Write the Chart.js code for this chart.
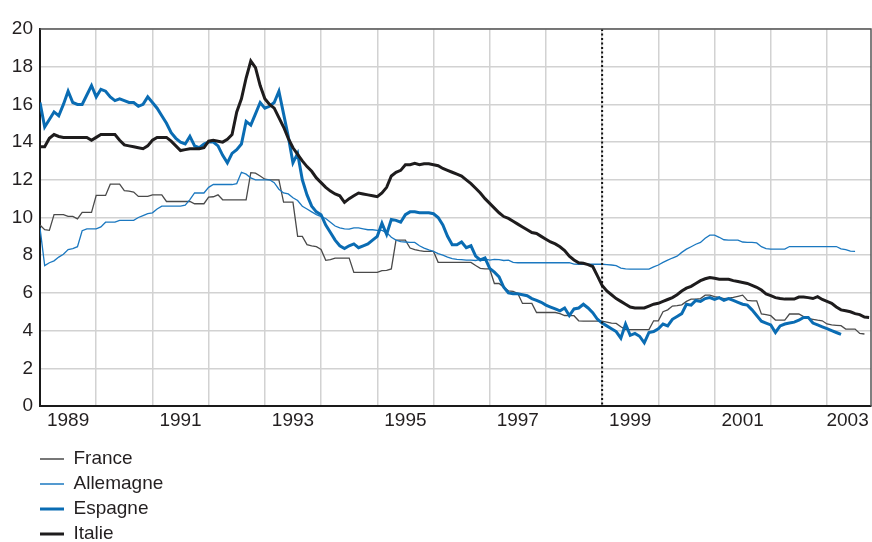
<!DOCTYPE html>
<html>
<head>
<meta charset="utf-8">
<script src="https://cdn.jsdelivr.net/npm/chart.js@4.4.1/dist/chart.umd.min.js"></script>
<style>
  html, body { margin: 0; padding: 0; background: #fff; }
</style>
</head>
<body>
<canvas id="chart" width="872" height="542"></canvas>
<script>
// Monthly rates, January 1989 onwards (one value per month)

const firstYear = 1989;
const yearLabels = ['1989', '1991', '1993', '1995', '1997', '1999', '2001', '2003'];
const euroMonth = 120; // January 1999

const france = [
  9.6, 9.35, 9.32, 10.15, 10.15, 10.15, 10.06, 10.06, 9.93, 10.27, 10.27, 10.27,
  11.17, 11.17, 11.17, 11.77, 11.77, 11.77, 11.43, 11.4, 11.35, 11.12, 11.12, 11.12,
  11.2, 11.2, 11.2, 10.85, 10.85, 10.85, 10.85, 10.85, 10.85, 10.73, 10.73, 10.73,
  11.08, 11.1, 11.2, 10.94, 10.94, 10.94, 10.94, 10.94, 10.94, 12.38, 12.35, 12.2,
  12.03, 12.0, 12.0, 12.0, 10.82, 10.82, 10.82, 9.0, 9.0, 8.56, 8.5, 8.45,
  8.3, 7.73, 7.76, 7.85, 7.85, 7.85, 7.85, 7.09, 7.09, 7.09, 7.09, 7.09,
  7.09, 7.18, 7.2, 7.27, 8.8, 8.8, 8.8, 8.38, 8.3, 8.24, 8.2, 8.2,
  8.2, 7.62, 7.62, 7.62, 7.62, 7.62, 7.62, 7.62, 7.62, 7.45, 7.3, 7.27,
  7.27, 6.5, 6.5, 6.3, 6.11, 6.08, 5.97, 5.44, 5.44, 5.44, 4.96, 4.96,
  4.96, 4.96, 4.96, 4.9, 4.8, 4.79, 4.79, 4.52, 4.5, 4.5, 4.5, 4.5,
  4.5, 4.45, 4.4, 4.38, 4.2, 4.05, 4.05, 4.05, 4.05, 4.05, 4.05, 4.52,
  4.52, 5.0, 5.1, 5.3, 5.32, 5.37, 5.55, 5.67, 5.67, 5.7, 5.88, 5.88,
  5.8, 5.76, 5.7, 5.72, 5.76, 5.82, 5.88, 5.6, 5.58, 5.58, 4.88, 4.85,
  4.79, 4.56, 4.56, 4.56, 4.88, 4.88, 4.88, 4.74, 4.65, 4.6, 4.55, 4.52,
  4.35, 4.3, 4.28, 4.26, 4.08, 4.08, 4.08, 3.85, 3.82
];

const allemagne = [
  9.45, 7.45, 7.6, 7.7, 7.9, 8.05, 8.3, 8.35, 8.45, 9.3, 9.4, 9.4,
  9.4, 9.5, 9.75, 9.75, 9.75, 9.85, 9.85, 9.85, 9.85, 10.0, 10.1, 10.2,
  10.25, 10.45, 10.6, 10.6, 10.6, 10.6, 10.6, 10.65, 10.95, 11.3, 11.3, 11.3,
  11.6, 11.75, 11.75, 11.75, 11.75, 11.75, 11.8, 12.4, 12.3, 12.1, 12.0, 12.0,
  12.0, 12.0, 11.85, 11.5, 11.3, 11.25, 11.05, 10.9, 10.6, 10.45, 10.3, 10.15,
  10.05, 9.95, 9.75, 9.55, 9.45, 9.4, 9.38, 9.45, 9.45, 9.4, 9.35, 9.35,
  9.32, 9.32, 9.2, 8.95, 8.8, 8.72, 8.7, 8.68, 8.68, 8.5, 8.38, 8.28,
  8.2, 8.08, 8.0, 7.9, 7.82, 7.78, 7.76, 7.74, 7.74, 7.72, 7.78, 7.8,
  7.74, 7.78, 7.76, 7.72, 7.74, 7.62, 7.6, 7.6, 7.6, 7.6, 7.6, 7.6,
  7.6, 7.6, 7.6, 7.6, 7.6, 7.6, 7.53, 7.52, 7.52, 7.52, 7.52, 7.52,
  7.52, 7.5, 7.48, 7.45, 7.32, 7.27, 7.26, 7.26, 7.26, 7.26, 7.26, 7.38,
  7.48, 7.62, 7.74, 7.85, 7.95, 8.15, 8.32, 8.45, 8.58, 8.68, 8.9, 9.06,
  9.06, 8.95, 8.82, 8.8, 8.8, 8.8, 8.7, 8.68, 8.68, 8.65, 8.45, 8.35,
  8.32, 8.32, 8.32, 8.32, 8.46, 8.46, 8.46, 8.46, 8.46, 8.46, 8.46, 8.46,
  8.46, 8.46, 8.46, 8.34, 8.3, 8.22, 8.2
];

const espagne = [
  16.1, 14.8, 15.2, 15.6, 15.4, 16.0, 16.7, 16.1, 16.0, 16.0, 16.5, 17.0,
  16.4, 16.8, 16.7, 16.4, 16.2, 16.3, 16.2, 16.1, 16.1, 15.9, 16.0, 16.4,
  16.1, 15.8, 15.4, 15.0, 14.5, 14.2, 14.0, 13.9, 14.3, 13.8, 13.7, 13.9,
  14.0, 14.0, 13.8, 13.3, 12.9, 13.4, 13.6, 13.9, 15.1, 14.9, 15.5, 16.1,
  15.8, 15.9, 16.1, 16.7, 15.5, 14.3, 12.9, 13.4, 12.0, 11.2, 10.6, 10.3,
  10.15, 9.6, 9.2, 8.8, 8.5, 8.35, 8.5, 8.6, 8.4, 8.5, 8.6, 8.8,
  9.0, 9.7, 9.1, 9.9, 9.85, 9.75, 10.15, 10.3, 10.3, 10.25, 10.25, 10.25,
  10.2, 10.0, 9.6, 9.0, 8.55, 8.55, 8.7, 8.4, 8.5, 7.95, 7.75, 7.85,
  7.3, 7.1, 6.85, 6.3, 6.0, 5.95, 5.95, 5.9, 5.85, 5.7, 5.6, 5.5,
  5.35, 5.25, 5.15, 5.05, 5.2, 4.8, 5.15, 5.2, 5.4, 5.2, 4.95, 4.6,
  4.4, 4.25, 4.1, 3.95, 3.6, 4.35, 3.75, 3.85, 3.7, 3.35, 3.9, 3.95,
  4.1, 4.35, 4.25, 4.6, 4.75, 4.9, 5.4, 5.35, 5.6, 5.55, 5.7, 5.75,
  5.65, 5.75, 5.6, 5.7, 5.6, 5.5, 5.4, 5.35, 5.1, 4.8, 4.5, 4.4,
  4.3, 3.9, 4.25, 4.35, 4.4, 4.45, 4.55, 4.7, 4.7, 4.4, 4.3, 4.2,
  4.1, 4.0, 3.9, 3.8
];

const italie = [
  13.75, 13.75, 14.2, 14.4, 14.3, 14.25, 14.25, 14.25, 14.25, 14.25, 14.25, 14.1,
  14.25, 14.4, 14.4, 14.4, 14.4, 14.1, 13.85, 13.8, 13.75, 13.7, 13.65, 13.8,
  14.1, 14.25, 14.25, 14.25, 14.05, 13.8, 13.55, 13.6, 13.65, 13.65, 13.65, 13.7,
  14.05, 14.1, 14.05, 14.0, 14.15, 14.4, 15.6, 16.3, 17.4, 18.3, 17.95, 17.0,
  16.3, 16.0, 15.8, 15.3, 14.8, 14.2, 13.7, 13.35, 13.0, 12.7, 12.45, 12.1,
  11.85, 11.6, 11.4, 11.25, 11.15, 10.8, 11.0, 11.15, 11.3, 11.25, 11.2, 11.15,
  11.1, 11.3, 11.6, 12.2, 12.4, 12.5, 12.8, 12.8, 12.87, 12.8, 12.85, 12.85,
  12.8, 12.75, 12.6, 12.5, 12.4, 12.3, 12.2, 12.0, 11.8, 11.55, 11.3, 11.0,
  10.75, 10.5, 10.25, 10.05, 9.95, 9.8, 9.65, 9.5, 9.35, 9.2, 9.15, 9.0,
  8.85, 8.7, 8.6, 8.45, 8.25, 7.95, 7.75, 7.6, 7.57, 7.5, 7.4, 6.9,
  6.4, 6.1, 5.9, 5.7, 5.55, 5.4, 5.25, 5.2, 5.2, 5.2, 5.3, 5.4,
  5.45, 5.55, 5.65, 5.75, 5.9, 6.1, 6.25, 6.35, 6.5, 6.65, 6.75, 6.82,
  6.78, 6.72, 6.72, 6.72, 6.65, 6.6, 6.55, 6.5, 6.4, 6.3, 6.15, 5.95,
  5.85, 5.75, 5.7, 5.67, 5.67, 5.67, 5.78, 5.78, 5.75, 5.7, 5.8, 5.65,
  5.55, 5.45, 5.25, 5.1, 5.05, 5.0, 4.9, 4.85, 4.72, 4.7
];

const lastMonth = 177.4;
const inkColor = '#231f20';
const gridColor = '#d2d2d2';
const font = { family: "'Liberation Sans', Arial, sans-serif", size: 19 };

const toPoints = (values) => values.map((v, i) => ({ x: i, y: v }));

function series(label, values, color, width, order) {
  return {
    label,
    data: toPoints(values),
    borderColor: color,
    backgroundColor: color,
    borderWidth: width,
    pointRadius: 0,
    tension: 0,
    order,
  };
}

// legend stacked vertically under the plot, left aligned with the y axis
const stackLegend = {
  id: 'stackLegend',
  afterLayout(chart) {
    const lg = chart.legend;
    const n = chart.data.datasets.length;
    const rowH = lg.options.labels.font.size + lg.options.labels.padding;
    lg.left = chart.chartArea.left - lg.options.labels.padding;
    lg.right = lg.left + 150;
    lg.width = 150;
    lg.height = n * rowH + 10;
    lg.bottom = lg.top + lg.height;
  }
};

// euro start marker + top/right frame
const frame = {
  id: 'frame',
  afterDraw(chart) {
    const { ctx, chartArea: a, scales } = chart;
    const xe = scales.x.getPixelForValue(euroMonth);
    ctx.save();
    ctx.strokeStyle = '#111';
    ctx.lineWidth = 2;
    ctx.setLineDash([2, 2.5]);
    ctx.beginPath();
    ctx.moveTo(xe, a.top);
    ctx.lineTo(xe, a.bottom);
    ctx.stroke();
    ctx.setLineDash([]);
    ctx.strokeStyle = '#555';
    ctx.lineWidth = 1.5;
    ctx.beginPath();
    ctx.moveTo(a.left, a.top);
    ctx.lineTo(a.right, a.top);
    ctx.lineTo(a.right, a.bottom);
    ctx.stroke();
    ctx.restore();
  }
};

new Chart(document.getElementById('chart'), {
  type: 'line',
  data: {
    datasets: [
      series('France', france, '#4a4a4a', 1.3, 4),
      series('Allemagne', allemagne, '#1b78c0', 1.3, 3),
      series('Espagne', espagne, '#0a6cb3', 3, 2),
      series('Italie', italie, '#1e1c1d', 3, 1),
    ],
  },
  options: {
    responsive: false,
    animation: false,
    layout: { padding: { top: 29, right: 1, bottom: 63.5, left: 0 } },
    scales: {
      x: {
        type: 'linear',
        min: 0,
        max: lastMonth,
        afterBuildTicks: (scale) => {
          const ticks = [];
          for (let m = 12; m < scale.max; m += 12) ticks.push({ value: m });
          yearLabels.forEach((y) => {
            const v = Math.min((Number(y) - firstYear) * 12 + 6, scale.max - 5);
            ticks.push({ value: v, lab: y });
          });
          ticks.sort((a, b) => a.value - b.value);
          scale.ticks = ticks;
        },
        afterFit: (scale) => { scale.height = 37.5; },
        ticks: {
          autoSkip: false,
          maxRotation: 0,
          padding: 3,
          color: inkColor,
          font,
          callback: (v, i, ticks) => ticks[i].lab || '',
        },
        grid: {
          drawTicks: false,
          lineWidth: 1.5,
          color: (ctx) => (ctx.tick && ctx.tick.lab ? 'rgba(0,0,0,0)' : gridColor),
        },
        border: { color: '#1a1a1a', width: 2 },
      },
      y: {
        min: 0,
        max: 20,
        afterFit: (scale) => { scale.width = 40; },
        ticks: { stepSize: 2, padding: 7, color: inkColor, font },
        grid: { drawTicks: false, lineWidth: 1.5, color: gridColor },
        border: { color: '#1a1a1a', width: 2 },
      },
    },
    plugins: {
      legend: {
        position: 'bottom',
        align: 'start',
        labels: {
          usePointStyle: true,
          pointStyle: 'line',
          pointStyleWidth: 24,
          padding: 6,
          color: inkColor,
          font,
          sort: (a, b) => a.datasetIndex - b.datasetIndex,
        },
      },
      tooltip: { enabled: false },
    },
  },
  plugins: [stackLegend, frame],
});
</script>
</body>
</html>
